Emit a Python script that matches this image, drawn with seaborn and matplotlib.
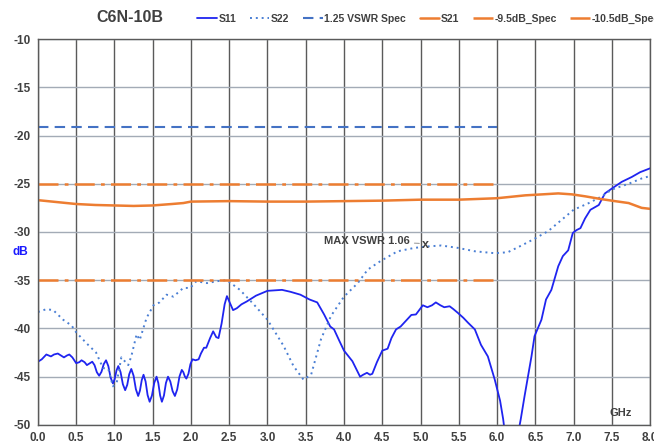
import seaborn as sns
import pandas as pd
import matplotlib.pyplot as plt

# S-parameter traces (GHz, dB)
s11_f = [0.00, 0.05, 0.11, 0.14, 0.17, 0.21, 0.26, 0.30, 0.34, 0.38, 0.41, 0.45, 0.50, 0.54, 0.57, 0.61,
         0.64, 0.68, 0.71, 0.74, 0.77, 0.80, 0.83, 0.86, 0.89, 0.92, 0.95, 0.98, 1.003, 1.027, 1.05, 1.08,
         1.11, 1.14, 1.167, 1.193, 1.22, 1.25, 1.28, 1.31, 1.333, 1.357, 1.38, 1.407, 1.433, 1.46, 1.49,
         1.52, 1.55, 1.573, 1.597, 1.62, 1.647, 1.673, 1.70, 1.73, 1.76, 1.79, 1.82, 1.85, 1.88, 1.90,
         1.92, 1.94, 1.967, 1.993, 2.02, 2.06, 2.10, 2.13, 2.17, 2.20, 2.25, 2.29, 2.33, 2.36, 2.40, 2.44,
         2.47, 2.50, 2.55, 2.60, 2.66, 2.73, 2.85, 3.00, 3.19, 3.30, 3.43, 3.55, 3.65, 3.74, 3.82, 3.87,
         3.94, 4.00, 4.06, 4.11, 4.16, 4.21, 4.25, 4.30, 4.34, 4.37, 4.43, 4.50, 4.57, 4.62, 4.68, 4.74,
         4.81, 4.88, 4.94, 5.03, 5.09, 5.15, 5.20, 5.26, 5.31, 5.38, 5.43, 5.49, 5.56, 5.62, 5.71, 5.79,
         5.88, 5.97, 6.04, 6.08, 6.12, 6.18, 6.25, 6.31, 6.36, 6.45, 6.49, 6.58, 6.64, 6.71, 6.80, 6.86,
         6.93, 6.99, 7.04, 7.09, 7.15, 7.22, 7.33, 7.41, 7.50, 7.63, 7.76, 7.87, 8.00]
s11_db = [-43.45, -43.2, -42.7, -42.8, -42.9, -42.7, -42.6, -42.8, -43.0, -42.8, -42.7, -43.0, -43.6, -43.5,
          -43.3, -43.5, -43.8, -43.6, -43.45, -43.81, -44.54, -44.9, -44.5, -43.7, -43.3, -43.9, -45.1,
          -45.7, -45.25, -44.35, -43.9, -44.53, -45.78, -46.4, -45.85, -44.75, -44.2, -44.9, -46.3, -47.0,
          -46.45, -45.35, -44.8, -45.5, -46.9, -47.6, -46.95, -45.65, -45.0, -45.65, -46.95, -47.6, -46.95,
          -45.65, -45.0, -45.5, -46.5, -47.0, -46.33, -44.98, -44.3, -44.53, -44.98, -45.2, -44.7, -43.7,
          -43.2, -43.3, -43.2, -42.6, -42.0, -42.0, -41.0, -40.3, -40.9, -41.0, -39.5, -37.5, -36.65, -37.2,
          -38.1, -37.9, -37.5, -37.2, -36.6, -36.1, -36.0, -36.2, -36.5, -37.0, -37.3, -38.55, -39.8, -40.1,
          -41.3, -42.3, -42.9, -43.4, -44.2, -45.0, -44.8, -44.6, -44.8, -44.7, -43.5, -42.3, -42.1, -41.0,
          -40.1, -39.8, -39.2, -38.6, -38.55, -37.6, -37.8, -37.6, -37.3, -37.6, -37.8, -37.7, -38.0, -38.4,
          -38.9, -39.4, -40.1, -41.7, -42.9, -45.3, -47.5, -49.4, -52.0, -54.0, -52.0, -49.4, -47.0, -42.9,
          -40.8, -39.1, -37.0, -36.0, -33.55, -32.5, -31.9, -30.1, -29.8, -29.6, -28.6, -27.7, -27.2, -26.0,
          -25.5, -24.8, -24.3, -23.8, -23.4]

s22_f = [0.00, 0.11, 0.20, 0.33, 0.44, 0.50, 0.63, 0.76, 0.85, 0.92, 0.98, 1.03, 1.09, 1.18, 1.22, 1.29,
         1.33, 1.42, 1.51, 1.59, 1.68, 1.77, 1.90, 1.99, 2.07, 2.21, 2.34, 2.47, 2.64, 2.82, 3.00, 3.21,
         3.34, 3.47, 3.57, 3.70, 3.83, 4.00, 4.18, 4.31, 4.48, 4.70, 4.92, 5.09, 5.27, 5.49, 5.71, 5.97,
         6.14, 6.32, 6.49, 6.67, 6.85, 7.00, 7.20, 7.37, 7.50, 7.72, 7.89, 8.00]
s22_db = [-38.3, -38.0, -38.1, -39.1, -39.7, -40.4, -41.5, -42.5, -44.1, -44.2, -46.0, -45.6, -43.0, -43.8,
          -42.9, -40.6, -41.2, -38.9, -37.6, -37.3, -36.5, -36.7, -35.8, -35.8, -35.1, -35.3, -35.1, -35.0,
          -36.0, -37.5, -39.1, -41.8, -43.9, -45.3, -44.8, -41.1, -38.7, -36.7, -35.3, -33.9, -33.0, -32.0,
          -31.65, -31.5, -31.4, -31.65, -32.0, -32.2, -32.1, -31.4, -30.7, -29.9, -28.7, -27.7, -27.0, -26.3,
          -25.6, -25.0, -24.45, -24.2]

s21_f = [0.00, 0.25, 0.50, 0.75, 1.00, 1.25, 1.50, 1.75, 1.90, 2.00, 2.50, 3.00, 3.50, 4.00, 4.50, 5.00,
         5.50, 6.00, 6.37, 6.59, 6.80, 6.98, 7.15, 7.37, 7.54, 7.72, 7.89, 8.00]
s21_db = [-26.7, -26.9, -27.1, -27.2, -27.25, -27.3, -27.25, -27.1, -27.0, -26.85, -26.8, -26.85, -26.85,
          -26.8, -26.75, -26.65, -26.65, -26.5, -26.2, -26.1, -26.0, -26.1, -26.3, -26.6, -26.8, -27.0,
          -27.5, -27.6]

# spec limits (start/stop GHz, level dB)
spec_f = [0.0, 6.0]
vswr_spec_db = -19.08
spec_95_db = -25.0
spec_105_db = -35.0

# max VSWR marker
max_f, max_db = 5.07, -31.35
max_label = 'MAX VSWR 1.06'

x_ticks = [0.0, 0.5, 1.0, 1.5, 2.0, 2.5, 3.0, 3.5, 4.0, 4.5, 5.0, 5.5, 6.0, 6.5, 7.0, 7.5, 8.0]
y_ticks = [-10, -15, -20, -25, -30, -35, -40, -45, -50]

sns.set_style('white')
plt.rcParams['font.family'] = ['Liberation Sans', 'DejaVu Sans']
plt.rcParams['axes.unicode_minus'] = False

fig = plt.figure(figsize=(6.54, 4.44), dpi=100)
ax = fig.add_axes([0.058, 0.043, 0.936, 0.869])

blue = '#1f24f0'
lblue = '#4a7fd4'
dblue = '#4472c4'
orange = '#ed7d31'
txt = '#404040'

df11 = pd.DataFrame({'f': s11_f, 'db': s11_db})
df22 = pd.DataFrame({'f': s22_f, 'db': s22_db})
df21 = pd.DataFrame({'f': s21_f, 'db': s21_db})

sns.lineplot(data=df11, x='f', y='db', ax=ax, color=blue, lw=1.3, label='S11', sort=False)
sns.lineplot(data=df22, x='f', y='db', ax=ax, color=lblue, lw=1.4, ls=(0, (1, 2)), label='S22', sort=False)
sns.lineplot(x=spec_f, y=[vswr_spec_db] * 2, ax=ax, color=dblue, lw=1.5, ls=(0, (5, 3)), label='1.25 VSWR Spec')
sns.lineplot(data=df21, x='f', y='db', ax=ax, color=orange, lw=1.8, label='S21', sort=False)
sns.lineplot(x=spec_f, y=[spec_95_db] * 2, ax=ax, color=orange, lw=1.8, ls=(0, (8, 2.5, 1.5, 2.5)), label='-9.5dB_Spec')
sns.lineplot(x=spec_f, y=[spec_105_db] * 2, ax=ax, color=orange, lw=1.8, ls=(0, (8, 2.5, 1.5, 2.5)), label='-10.5dB_Spec')

# max VSWR point with leader line
ax.text(max_f, max_db, 'x', ha='center', va='center', fontsize=9, fontweight='bold', color=txt)
ax.annotate(max_label, xy=(max_f - 0.05, max_db + 0.15), xytext=(4.86, -30.9), ha='right', va='center',
            fontsize=8, fontweight='bold', color=txt,
            arrowprops=dict(arrowstyle='-', color='#a0a0a0', lw=0.8, shrinkA=1, shrinkB=2))

ax.set_xlim(0, 8)
ax.set_ylim(-50, -10)
ax.set_xticks(x_ticks)
ax.set_yticks(y_ticks)
ax.set_xticklabels([f'{t:.1f}' for t in x_ticks])
ax.tick_params(length=0, labelsize=8.5, labelcolor=txt, pad=5)
for lab in ax.get_xticklabels() + ax.get_yticklabels():
    lab.set_fontweight('bold')
ax.set_xlabel('')
ax.set_ylabel('')

ax.xaxis.grid(True, color='#5a5a5a', lw=1)
ax.yaxis.grid(True, color='#a3abb6', lw=1)
for sp in ax.spines.values():
    sp.set_color('#5a5a5a')
    sp.set_linewidth(1)

ax.text(7.61, -48.75, 'GHz', ha='center', va='center', fontsize=8, fontweight='bold', color=txt)
fig.text(20 / 654, 1 - 252 / 444, 'dB', ha='center', va='center', fontsize=8.5, fontweight='bold', color='#1a1aff')
fig.text(130 / 654, 1 - 18 / 444, 'C6N-10B', ha='center', va='center', fontsize=11.5, fontweight='bold', color=txt)

handles, labels = ax.get_legend_handles_labels()
ax.get_legend().remove()
fig.legend(handles, labels, loc='center left', bbox_to_anchor=(197 / 654, 1 - 19 / 444), ncol=6,
           frameon=False, prop={'size': 7.5, 'weight': 'bold'}, labelcolor=txt, handlelength=1.9,
           handletextpad=0.15, columnspacing=1.3, borderaxespad=0, borderpad=0)

plt.savefig('out.png', dpi=100)
